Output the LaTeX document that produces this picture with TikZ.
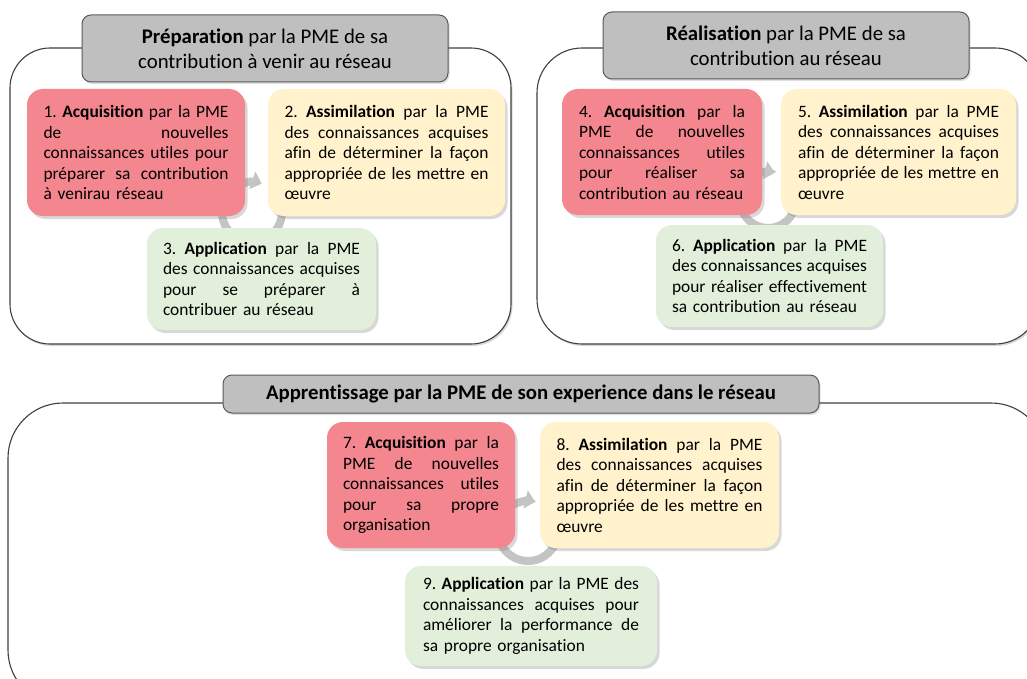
\documentclass[tikz,border=0pt]{standalone}
\usepackage{fontspec}
\setmainfont{Carlito}[Ligatures=NoCommon]
\usetikzlibrary{shadows,arrows.meta}
\definecolor{redbox}{HTML}{F4868F}
\definecolor{yellowbox}{HTML}{FFF2CC}
\definecolor{greenbox}{HTML}{E2EFDA}
\definecolor{titlegray}{HTML}{BFBFBF}
\definecolor{titleline}{HTML}{5A5A5A}
\definecolor{panelline}{HTML}{404040}
\definecolor{ringgray}{HTML}{C4C4C4}
\frenchspacing
\newlength{\boxw}
\newcommand{\jline}[1]{\noindent\hbox to \boxw{\spaceskip=\fontdimen2\font plus 1fil\relax #1}\par}
\newcommand{\lline}[1]{\noindent\hbox to \boxw{#1\hfil}\par}
\tikzset{
  panel/.style={draw=panelline, line width=1.1pt, fill=white, rounded corners=#1,
    drop shadow={opacity=.3, shadow xshift=1.5pt, shadow yshift=-2pt}},
  titlebox/.style={draw=titleline, line width=1pt, fill=titlegray, rounded corners=9pt,
    align=center, inner sep=0pt, font=\fontsize{20.8}{25}\selectfont,
    drop shadow={opacity=.25, shadow xshift=1.5pt, shadow yshift=-2pt}},
  stepbox/.style={rounded corners=16pt, inner sep=0pt, font=\fontsize{17.4}{20.5}\selectfont,
    drop shadow={opacity=.3, shadow xshift=2.5pt, shadow yshift=-3pt}},
  tw/.style={text width=#1, execute at begin node={\setlength{\boxw}{#1}}},
  ring/.style={line width=8pt, draw=ringgray, -{Triangle[length=10pt,width=18pt]}},
}
\begin{document}
\begin{tikzpicture}[x=1pt,y=1pt]
\useasboundingbox (0,0) rectangle (1027,-679);
\clip (0,0) rectangle (1027,-679);
\fill[white] (0,0) rectangle (1027,-679);

% panels
\node[panel=40pt, minimum width=501pt, minimum height=296pt] (p1) at (260.5,-196) {};
\node[panel=45pt, minimum width=503pt, minimum height=296pt] (p2) at (788.5,-196) {};
\node[panel=55pt, minimum width=1038pt, minimum height=302pt] (p3) at (527,-554) {};

% titles
\node[titlebox, minimum width=366pt, minimum height=67pt] (t1) at (265,-48.5)
  {\textbf{Préparation} par la PME de sa\\contribution à venir au réseau};
\node[titlebox, minimum width=366pt, minimum height=67pt] (t2) at (786,-45.5)
  {\textbf{Réalisation} par la PME de sa\\contribution au réseau};
\node[titlebox, minimum width=596pt, minimum height=38pt] (t3) at (521,-394)
  {\textbf{Apprentissage par la PME de son experience dans le réseau}};

% cycle rings
\coordinate (c1) at (252,-212);
\coordinate (c2) at (768,-200);
\coordinate (c3) at (528,-531);
\draw[ring] ([shift={(20:30)}]c1) arc (20:-289:30);
\draw[ring] ([shift={(20:28)}]c2) arc (20:-284:28);
\draw[ring] ([shift={(20:30)}]c3) arc (20:-284:30);

% panel 1
\node[stepbox, fill=redbox, minimum width=218pt, minimum height=127pt, tw=185pt] (b1) at (136,-152.5) {%
\jline{1. \textbf{Acquisition} par la PME}
\jline{de nouvelles}
\jline{connaissances utiles pour}
\jline{préparer sa contribution}
\lline{à venirau réseau}};
\node[stepbox, fill=yellowbox, minimum width=237pt, minimum height=127pt, tw=204pt] (b2) at (386.5,-152.5) {%
\jline{2. \textbf{Assimilation} par la PME}
\jline{des connaissances acquises}
\jline{afin de déterminer la façon}
\jline{appropriée de les mettre en}
\lline{œuvre}};
\node[stepbox, fill=greenbox, minimum width=229pt, minimum height=102pt, tw=197pt] (b3) at (261.5,-279) {%
\jline{3. \textbf{Application} par la PME}
\jline{des connaissances acquises}
\jline{pour se préparer à}
\lline{contribuer au réseau}};

% panel 2
\node[stepbox, fill=redbox, minimum width=200pt, minimum height=126pt, tw=166pt] (b4) at (662,-152) {%
\jline{4. \textbf{Acquisition} par la}
\jline{PME de nouvelles}
\jline{connaissances utiles}
\jline{pour réaliser sa}
\lline{contribution au réseau}};
\node[stepbox, fill=yellowbox, minimum width=235pt, minimum height=126pt, tw=201pt] (b5) at (898.5,-152) {%
\jline{5. \textbf{Assimilation} par la PME}
\jline{des connaissances acquises}
\jline{afin de déterminer la façon}
\jline{appropriée de les mettre en}
\lline{œuvre}};
\node[stepbox, fill=greenbox, minimum width=227pt, minimum height=102pt, tw=195pt] (b6) at (769.5,-276) {%
\jline{6. \textbf{Application} par la PME}
\jline{des connaissances acquises}
\jline{pour réaliser effectivement}
\lline{sa contribution au réseau}};

% panel 3
\node[stepbox, fill=redbox, minimum width=188pt, minimum height=126pt, tw=156pt] (b7) at (421,-485) {%
\jline{7. \textbf{Acquisition} par la}
\jline{PME de nouvelles}
\jline{connaissances utiles}
\jline{pour sa propre}
\lline{organisation}};
\node[stepbox, fill=yellowbox, minimum width=239pt, minimum height=126pt, tw=206pt] (b8) at (659.5,-485) {%
\jline{8. \textbf{Assimilation} par la PME}
\jline{des connaissances acquises}
\jline{afin de déterminer la façon}
\jline{appropriée de les mettre en}
\lline{œuvre}};
\node[stepbox, fill=greenbox, minimum width=252pt, minimum height=100pt, tw=216pt] (b9) at (531,-616) {%
\jline{9. \textbf{Application} par la PME des}
\jline{connaissances acquises pour}
\jline{améliorer la performance de}
\lline{sa propre organisation}};
\end{tikzpicture}
\end{document}
